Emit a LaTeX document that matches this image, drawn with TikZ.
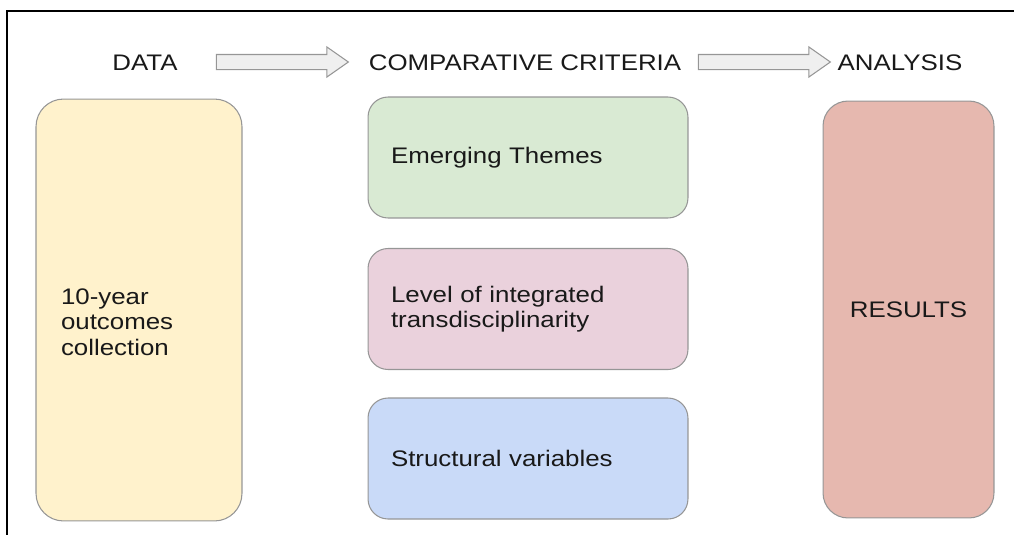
\documentclass[tikz,border=0pt]{standalone}
\usepackage{fontspec}
\setmainfont{Liberation Sans}[FakeStretch=1.15]
\usetikzlibrary{positioning, shapes.arrows}
\definecolor{DataYellow}{RGB}{255,242,204}
\definecolor{ThemeGreen}{RGB}{217,234,211}
\definecolor{LevelPink}{RGB}{234,209,220}
\definecolor{StructBlue}{RGB}{201,218,248}
\definecolor{ResultRed}{RGB}{230,184,175}
\definecolor{BoxGray}{RGB}{150,150,150}
\definecolor{ArrowFill}{RGB}{239,239,239}

\begin{document}
\begin{tikzpicture}[x=0.02cm, y=-0.02cm, font=\fontsize{12.8}{14.5}\selectfont]
        \tikzstyle{head} = [inner sep=0pt, text=black!90]
        \tikzstyle{box} = [rectangle, draw=BoxGray, line width=0.6pt, align=left,
          inner ysep=0pt, text=black!90]
        \tikzstyle{crit} = [box, rounded corners=0.4cm, minimum width=6.4cm,
          minimum height=2.42cm, text width=5.48cm, inner xsep=0.46cm]
        \tikzstyle{flow} = [single arrow, draw=BoxGray, fill=ArrowFill, line width=0.6pt,
          inner sep=0pt, inner ysep=0.14cm, single arrow head extend=0.15cm,
          single arrow tip angle=70, minimum height=2.64cm]

        \useasboundingbox (0,0) rectangle (1014,535);
        \draw[line width=1.1pt] (1014,11) -- (7,11) -- (7,535);

        % headers and the flow between them
        \node[head] (datahead) at (145,63) {DATA};
        \node[head] (crithead) at (525,63) {COMPARATIVE CRITERIA};
        \node[head] (anahead) at (900,63) {ANALYSIS};
        \node[flow] (arrA) at (277,62) {};
        \node[flow] (arrB) at (759,62) {};

        % columns
        \node[box, fill=DataYellow, rounded corners=0.55cm, minimum width=4.12cm,
          minimum height=8.44cm, text width=3.12cm, inner xsep=0.5cm]
          (data) at (139,310) {\mbox{}\\[8pt]10-year\\outcomes\\collection};

        \foreach \y/\c/\n/\t in {157.5/ThemeGreen/themes/Emerging Themes,
            309/LevelPink/level/{Level of integrated\\transdisciplinarity},
            458.5/StructBlue/struct/Structural variables}
          \node[crit, fill=\c] (\n) at (528,\y) {\t};

        \node[box, fill=ResultRed, rounded corners=0.5cm, minimum width=3.42cm,
          minimum height=8.34cm, align=center] (results) at (908.5,309.5) {RESULTS};
      \end{tikzpicture}
\end{document}
